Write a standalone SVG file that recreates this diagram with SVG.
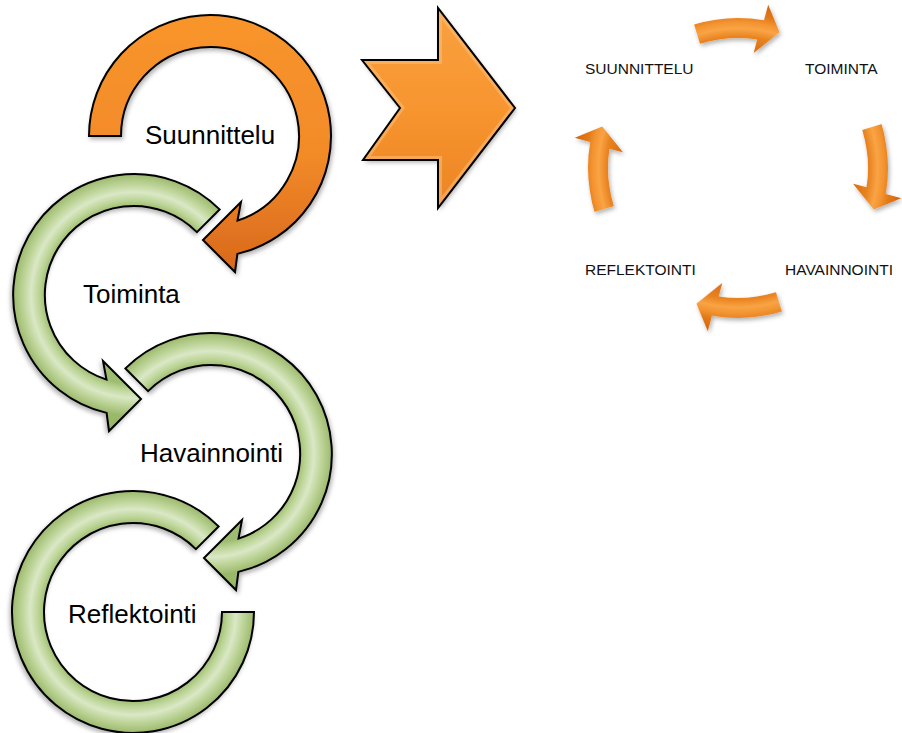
<svg xmlns="http://www.w3.org/2000/svg" width="902" height="733" viewBox="0 0 902 733">
  <style>
    .big { font-family: "Liberation Sans", Arial, sans-serif; font-size: 26px; fill: #000; }
    .cap { font-family: "Liberation Sans", Arial, sans-serif; font-size: 15.5px; fill: #111; }
    .ring { stroke: #000; stroke-width: 2; stroke-linejoin: miter; }
    .green { fill: url(#gTube); }
    .orange { fill: url(#gOrange); }
    .small { fill: url(#gSmall); }
  </style>
  <defs>
    <!-- tube shading across the ring band (radius 89..121 in local units) -->
    <radialGradient id="gTube" gradientUnits="userSpaceOnUse" cx="0" cy="0" r="121">
      <stop offset="0" stop-color="#9bba6c"/>
      <stop offset="0.735" stop-color="#9fbd72"/>
      <stop offset="0.78" stop-color="#bad393"/>
      <stop offset="0.85" stop-color="#dae8c6"/>
      <stop offset="0.91" stop-color="#c0d69c"/>
      <stop offset="0.97" stop-color="#a8c37c"/>
      <stop offset="1" stop-color="#9ab86b"/>
    </radialGradient>
    <linearGradient id="gOrange" gradientUnits="userSpaceOnUse" x1="0" y1="-121" x2="0" y2="136">
      <stop offset="0" stop-color="#f8952c"/>
      <stop offset="0.55" stop-color="#f28a28"/>
      <stop offset="1" stop-color="#d8681c"/>
    </linearGradient>
    <linearGradient id="gChevron" x1="0" y1="0" x2="0" y2="1">
      <stop offset="0" stop-color="#f9a140"/>
      <stop offset="0.5" stop-color="#f7952f"/>
      <stop offset="1" stop-color="#ec8424"/>
    </linearGradient>
    <!-- small cycle arrows: band radius 130..150 around the cycle centre -->
    <radialGradient id="gSmall" gradientUnits="userSpaceOnUse" cx="0" cy="0" r="166">
      <stop offset="0" stop-color="#d86c12"/>
      <stop offset="0.70" stop-color="#d86c12"/>
      <stop offset="0.79" stop-color="#e98320"/>
      <stop offset="0.84" stop-color="#f9a445"/>
      <stop offset="0.88" stop-color="#f39330"/>
      <stop offset="0.92" stop-color="#e47a18"/>
      <stop offset="1" stop-color="#d06410"/>
    </radialGradient>
    <filter id="shadow" x="-20%" y="-20%" width="140%" height="140%">
      <feDropShadow dx="1.5" dy="2.5" stdDeviation="2" flood-color="#000" flood-opacity="0.3"/>
    </filter>
    <clipPath id="chevClip">
      <polygon points="362,60 438,60 438,8 515,108 438,208 438,160 363,160 400,108"/>
    </clipPath>
    <!-- ring arrow, tail at -135deg, head near the bottom -->
    <path id="ringArrow" d="M -85.6,-85.6 A 121 121 0 1 1 27.4,117.9 L 25,136 L -7,104 L 31,66 L 27.5,84.6 A 89 89 0 1 0 -62.9,-62.9 Z"/>
    <path id="smallArrow" d="M -43.9,-143.4 A 150 150 0 0 1 26.0,-147.7 L 30.2,-163.2 L 41.5,-135.8 L 15.7,-114.9 L 19.2,-128.6 A 130 130 0 0 0 -38.0,-124.3 Z"/>
  </defs>

  <rect width="902" height="733" fill="#fff"/>

  <!-- left: chain of ring arrows -->
  <g id="node-reflektointi">
    <path transform="translate(133,612) scale(-1,1)" class="ring green" filter="url(#shadow)"
          d="M -85.6,-85.6 A 121 121 0 1 1 -121,0 L -89,0 A 89 89 0 1 0 -62.9,-62.9 Z"/>
    <text class="big" x="68" y="623">Reflektointi</text>
  </g>

  <g id="node-havainnointi">
    <use href="#ringArrow" transform="translate(211,454)" class="ring green" filter="url(#shadow)"/>
    <text class="big" x="140" y="462">Havainnointi</text>
  </g>

  <g id="node-toiminta">
    <use href="#ringArrow" transform="translate(134,295) scale(-1,1)" class="ring green" filter="url(#shadow)"/>
    <text class="big" x="83" y="303">Toiminta</text>
  </g>

  <g id="node-suunnittelu">
    <path transform="translate(210,136)" class="ring orange" filter="url(#shadow)"
          d="M -121,0 A 121 121 0 1 1 27.4,117.9 L 25,136 L -7,104 L 31,66 L 27.5,84.6 A 89 89 0 1 0 -89,0 Z"/>
    <text class="big" x="145" y="144">Suunnittelu</text>
  </g>

  <!-- big block arrow -->
  <g id="node-chevron">
    <polygon points="362,60 438,60 438,8 515,108 438,208 438,160 363,160 400,108"
             fill="url(#gChevron)" filter="url(#shadow)"/>
    <polygon points="362,60 438,60 438,8 515,108 438,208 438,160 363,160 400,108"
             fill="none" stroke="#fbc07c" stroke-width="8" opacity="0.55" clip-path="url(#chevClip)"/>
    <polygon points="362,60 438,60 438,8 515,108 438,208 438,160 363,160 400,108"
             fill="none" stroke="#000" stroke-width="2" stroke-linejoin="miter"/>
  </g>

  <!-- right: cycle labels -->
  <g id="node-suunnittelu-cap"><text class="cap" x="585" y="74">SUUNNITTELU</text></g>
  <g id="node-toiminta-cap"><text class="cap" x="805" y="74">TOIMINTA</text></g>
  <g id="node-havainnointi-cap"><text class="cap" x="785" y="275">HAVAINNOINTI</text></g>
  <g id="node-reflektointi-cap"><text class="cap" x="585" y="275">REFLEKTOINTI</text></g>

  <!-- right: cycle arrows around centre (738,168) -->
  <g id="connectors" class="small" filter="url(#shadow)">
    <use href="#smallArrow" transform="translate(738,168)"/>
    <use href="#smallArrow" transform="translate(738,168) rotate(90)"/>
    <use href="#smallArrow" transform="translate(738,168) rotate(180)"/>
    <use href="#smallArrow" transform="translate(738,168) rotate(270)"/>
  </g>
</svg>
